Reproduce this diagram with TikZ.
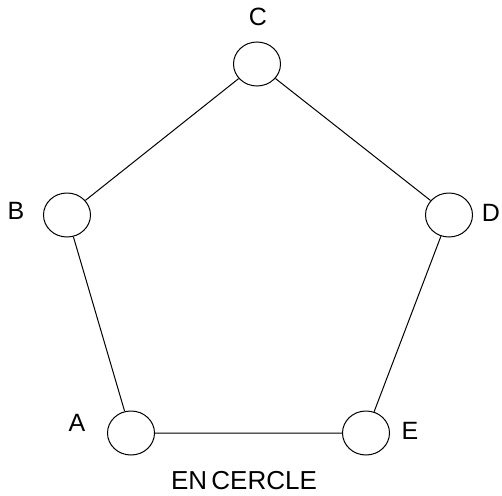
\documentclass[tikz,border=0pt]{standalone}
\usepackage{fontspec}
\setmainfont{Liberation Sans}
\usetikzlibrary{shapes.geometric}
\tikzset{
  site/.style={draw, ellipse, minimum width=47pt, minimum height=44pt, inner sep=0pt},
  tag/.style={font=\fontsize{25}{28}\selectfont}
}
\begin{document}
\begin{tikzpicture}[x=1pt, y=-1pt, line width=1pt]
  \useasboundingbox (0,0) rectangle (502,495);
  % sites
  \node [site] (c) at (257,64) {};
  \node [site] (b) at (67,215) {};
  \node [site] (d) at (449,215) {};
  \node [site] (a) at (131,433) {};
  \node [site] (e) at (366,433) {};
  % ring
  \draw (c) -- (b) -- (a) -- (e) -- (d) -- (c);
  % labels
  \node [tag] (lc) at (258,17) {C};
  \node [tag] (lb) at (16,211) {B};
  \node [tag] (ld) at (491,213) {D};
  \node [tag] (la) at (77,423) {A};
  \node [tag] (le) at (410,431) {E};
  \node [tag, font=\fontsize{26}{28}\selectfont] (title) at (244,481) {EN\hspace{-3pt} CERCLE};
\end{tikzpicture}
\end{document}
